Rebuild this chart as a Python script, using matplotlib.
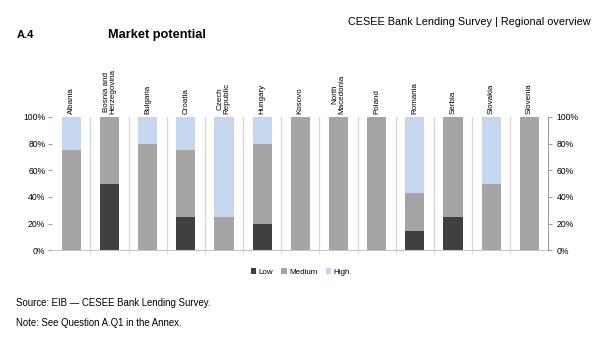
import numpy as np
import matplotlib.pyplot as plt

# data (share of answers, %)
countries = ['Albania', 'Bosnia and\nHerzegovina', 'Bulgaria', 'Croatia', 'Czech\nRepublic',
             'Hungary', 'Kosovo', 'North\nMacedonia', 'Poland', 'Romania', 'Serbia',
             'Slovakia', 'Slovenia']
low = [0, 50, 0, 25, 0, 20, 0, 0, 0, 14.3, 25, 0, 0]
medium = [75, 50, 80, 50, 25, 60, 100, 100, 100, 28.6, 75, 50, 100]
high = [25, 0, 20, 25, 75, 20, 0, 0, 0, 57.1, 0, 50, 0]

c_low = '#404040'
c_med = '#a5a5a5'
c_high = '#c6d6ee'
font = 'Liberation Sans'

fig = plt.figure(figsize=(6, 3.39), dpi=100)
ax = fig.add_axes([0.087, 0.262, 0.827, 0.393])

x = np.arange(len(countries))
low = np.array(low)
medium = np.array(medium)
high = np.array(high)
w = 0.5
ax.bar(x, low, w, color=c_low, label='Low')
ax.bar(x, medium, w, bottom=low, color=c_med, label='Medium')
ax.bar(x, high, w, bottom=low + medium, color=c_high, label='High')

# separators between countries
for b in np.arange(len(countries) - 1) + 0.5:
    ax.axvline(b, color='#d9d9d9', lw=1, zorder=0)

ax.set_xlim(-0.5, len(countries) - 0.5)
ax.set_ylim(0, 100)
ax.set_xticks([])
ax.set_xticks(np.arange(len(countries) - 1) + 0.5, minor=True)
ax.tick_params(axis='x', which='minor', length=3, color='#d9d9d9')

yt = [0, 20, 40, 60, 80, 100]
ylab = [f'{v}%' for v in yt]
ax.set_yticks(yt)
ax.set_yticklabels(ylab, fontsize=6.2, family=font)
ax.tick_params(axis='y', length=3, color='#a0a0a0', pad=2)
for s in ['top', 'left', 'right']:
    ax.spines[s].set_visible(False)
ax.spines['bottom'].set_color('#c8c8c8')

ax2 = ax.twinx()
ax2.set_ylim(0, 100)
ax2.set_yticks(yt)
ax2.set_yticklabels(ylab, fontsize=6.2, family=font)
ax2.tick_params(axis='y', length=3, color='#a0a0a0', pad=3)
for s in ['top', 'left', 'bottom']:
    ax2.spines[s].set_visible(False)
ax2.spines['right'].set_color('#a0a0a0')

# country names on top, rotated
for i, name in enumerate(countries):
    ax.text(i, 102, name, rotation=90, ha='center', va='bottom', fontsize=5.8,
            family=font, linespacing=0.95)

fig.text(0.028, 0.897, 'A.4', fontsize=8, fontweight='bold', family=font, va='center')
fig.text(0.18, 0.897, 'Market potential', fontsize=9.2, fontweight='bold', family=font,
         va='center')
fig.text(0.985, 0.935, 'CESEE Bank Lending Survey | Regional overview', fontsize=7.8,
         ha='right', va='center', family=font)

ax.legend(loc='upper center', bbox_to_anchor=(0.5, -0.08), ncol=3, frameon=False,
          prop={'family': font, 'size': 5.8}, handlelength=0.7, handleheight=0.7,
          handletextpad=0.3, columnspacing=1.0)

fig.text(0.027, 0.106, 'Source: EIB \u2014 CESEE Bank Lending Survey.', fontsize=6.9,
         family=font, va='center')
fig.text(0.027, 0.047, 'Note: See Question A.Q1 in the Annex.', fontsize=6.9,
         family=font, va='center')

fig.savefig('out.png', dpi=100)
